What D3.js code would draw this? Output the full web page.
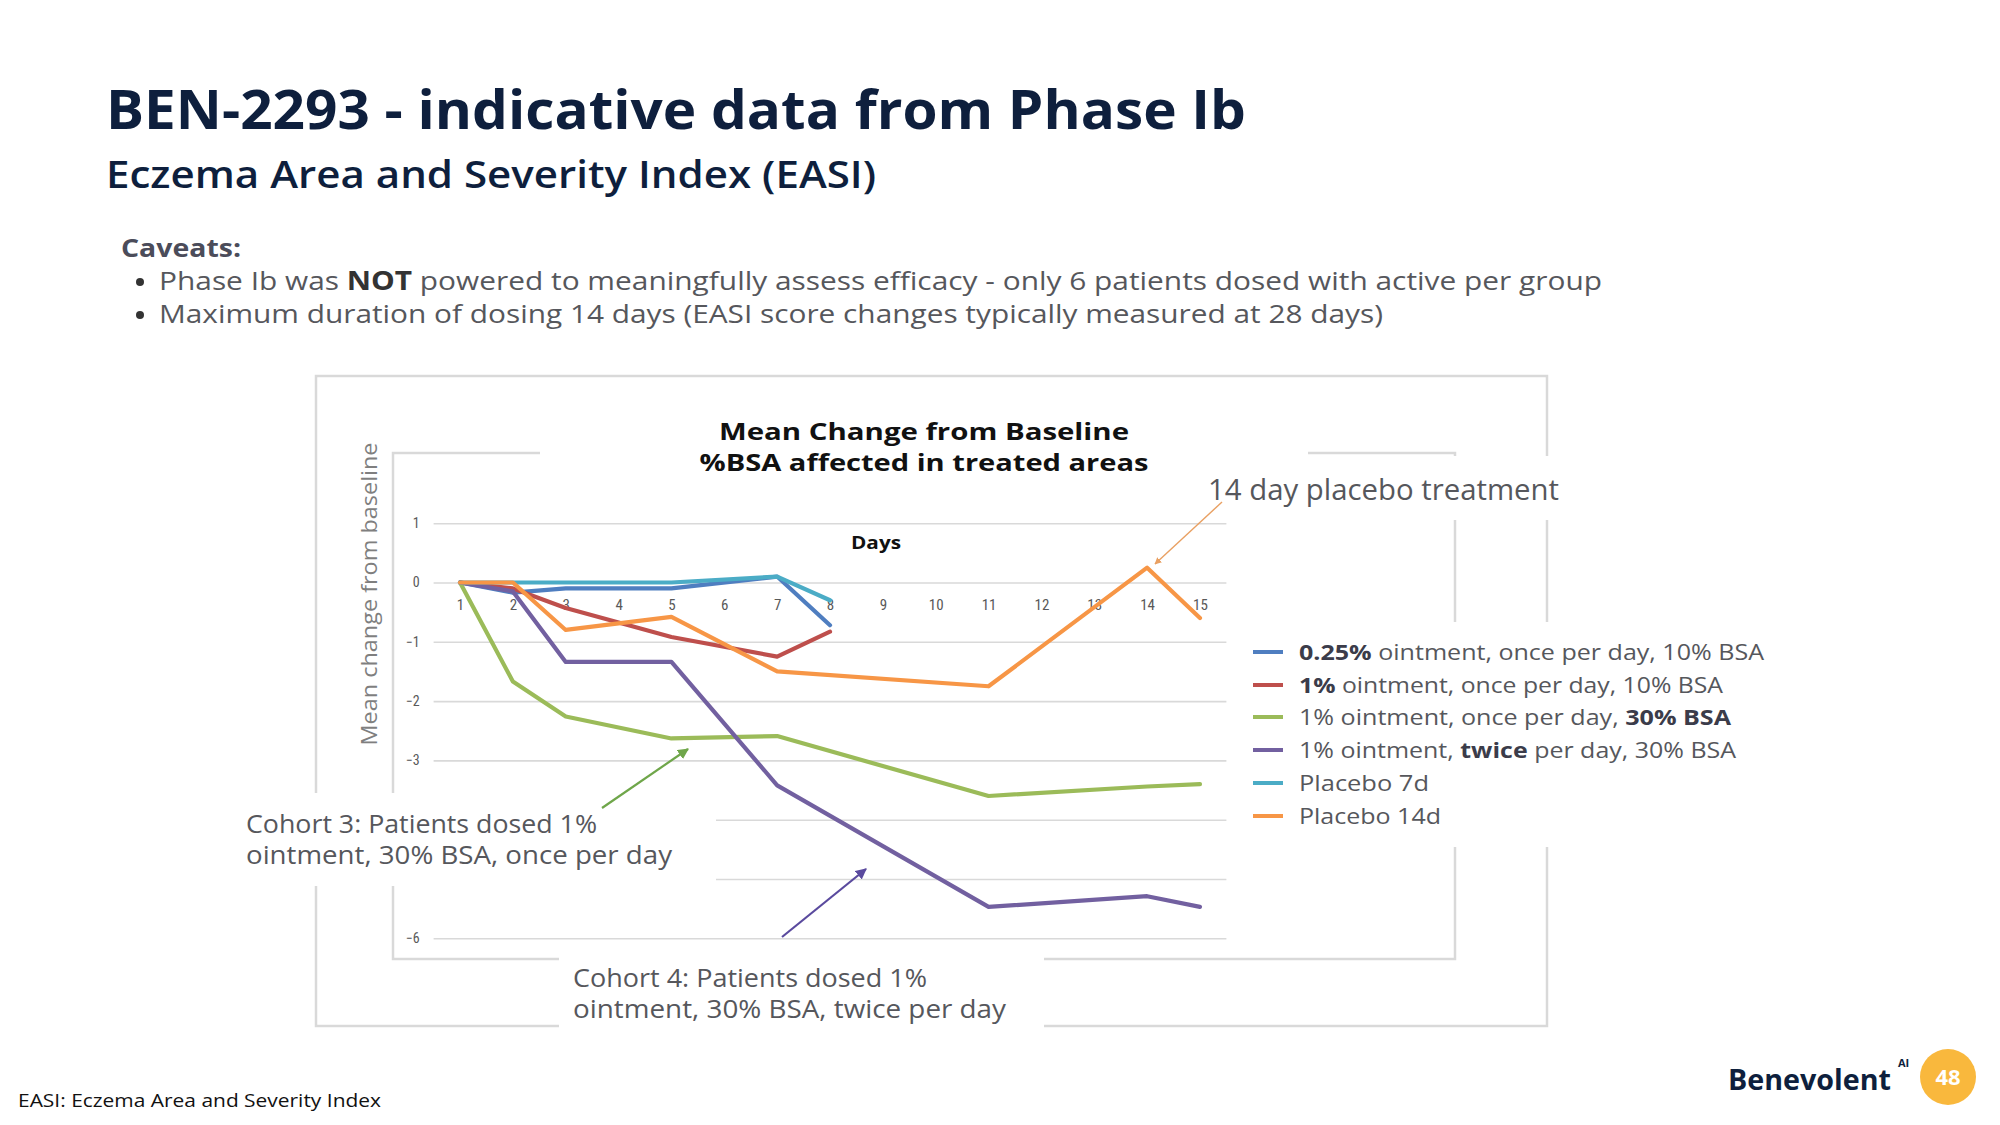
<!DOCTYPE html>
<html><head><meta charset="utf-8">
<script src="https://cdn.jsdelivr.net/npm/d3@7"></script>
<style>
body{margin:0;background:#fff}
svg{display:block}
text{font-family:'Open Sans','Noto Sans',sans-serif}
.narrow{font-family:'Liberation Sans Narrow','Roboto Condensed','Liberation Sans',sans-serif}
</style>
</head><body>
<svg id="c" width="2000" height="1125"></svg>
<script>
// ---------- DATA ----------
const days = [1,2,3,4,5,6,7,8,9,10,11,12,13,14,15];
const daysShort = [1,2,3,5,7,8];
const daysLong = [1,2,3,5,7,11,14,15];
const yTicks = [1,0,-1,-2,-3,-4,-5,-6];
const yTickLabels = [1,0,-1,-2,-3,-6];   // -4 and -5 are hidden behind the annotation box

const seriesNames = [
  "0.25% ointment, once per day, 10% BSA",
  "1% ointment, once per day, 10% BSA",
  "1% ointment, once per day, 30% BSA",
  "1% ointment, twice per day, 30% BSA",
  "Placebo 7d",
  "Placebo 14d"
];
const vals025Once10 = [0, -0.17, -0.1, -0.1, 0.1, -0.72];
const vals1Once10   = [0, -0.1, -0.43, -0.92, -1.25, -0.83];
const vals1Once30   = [0, -1.67, -2.26, -2.63, -2.59, -3.6, -3.44, -3.4];
const vals1Twice30  = [0, -0.15, -1.34, -1.34, -3.42, -5.47, -5.29, -5.47];
const valsPlacebo7  = [0, 0, 0, 0, 0.1, -0.3];
const valsPlacebo14 = [0, 0, -0.8, -0.58, -1.5, -1.75, 0.25, -0.6];

// legend label runs: [text, bold]
const legendRuns = [
  [["0.25%", true], [" ointment, once per day, 10% BSA", false]],
  [["1%", true], [" ointment, once per day, 10% BSA", false]],
  [["1% ointment, once per day, ", false], ["30% BSA", true]],
  [["1% ointment, ", false], ["twice", true], [" per day, 30% BSA", false]],
  [["Placebo 7d", false]],
  [["Placebo 14d", false]]
];

// ---------- STYLE ----------
const colors = ["#4F7EC0", "#BE4F4C", "#9BBB59", "#7260A0", "#4BACC6", "#F79646"];
const seriesList = [
  {days: daysShort, vals: vals025Once10},
  {days: daysShort, vals: vals1Once10},
  {days: daysLong,  vals: vals1Once30},
  {days: daysLong,  vals: vals1Twice30},
  {days: daysShort, vals: valsPlacebo7},
  {days: daysLong,  vals: valsPlacebo14}
];

const svg = d3.select("#c");
const boxCol = "#d9d9d9";
const navy = "#0e1f3d";
const gray = "#56575c";

function fit(sel, w){ sel.attr("textLength", w).attr("lengthAdjust", "spacingAndGlyphs"); return sel; }

// ---------- HEADER ----------
fit(svg.append("text").attr("x",106).attr("y",129).attr("font-size",53).attr("font-weight",700)
  .attr("fill",navy).text("BEN-2293 - indicative data from Phase Ib"), 1140);
fit(svg.append("text").attr("x",106).attr("y",188).attr("font-size",37).attr("font-weight",600)
  .attr("fill",navy).text("Eczema Area and Severity Index (EASI)"), 770);
fit(svg.append("text").attr("x",121).attr("y",257).attr("font-size",25).attr("font-weight",700)
  .attr("fill","#4b4c5a").text("Caveats:"), 120);

const b1 = svg.append("text").attr("x",159).attr("y",290).attr("font-size",26).attr("fill",gray);
b1.append("tspan").text("Phase Ib was ");
b1.append("tspan").attr("font-weight",700).attr("fill","#333").text("NOT");
b1.append("tspan").text(" powered to meaningfully assess efficacy - only 6 patients dosed with active per group");
fit(b1, 1443);
const b2 = svg.append("text").attr("x",159).attr("y",323).attr("font-size",26).attr("fill",gray)
  .text("Maximum duration of dosing 14 days (EASI score changes typically measured at 28 days)");
fit(b2, 1224);
[290,323].forEach(y => svg.append("circle").attr("cx",140).attr("cy",y-8).attr("r",4).attr("fill","#333"));

// ---------- CHART FRAME ----------
svg.append("rect").attr("x",316).attr("y",376).attr("width",1547-316).attr("height",1026-376)
  .attr("fill","none").attr("stroke",boxCol).attr("stroke-width",2.5);
svg.append("rect").attr("x",393).attr("y",453).attr("width",1455-393).attr("height",959-453)
  .attr("fill","none").attr("stroke",boxCol).attr("stroke-width",2.5);

// ---------- SCALES ----------
const x = d3.scalePoint().domain(days).range([433.6, 1226.4]).padding(0.5);
const y = d3.scaleLinear().domain([-6, 1]).range([938.3, 523.2]);

// gridlines
const yAxis = d3.axisLeft(y).tickValues(yTicks).tickSize(-(1226.4-433.6))
  .tickFormat(d3.format("d")).tickPadding(14);
const gy = svg.append("g").attr("transform","translate(433.6,0)").call(yAxis);
gy.select(".domain").remove();
gy.selectAll(".tick line").attr("stroke",boxCol).attr("stroke-width",1.6);
gy.selectAll(".tick text").filter(d => !yTickLabels.includes(d)).remove();
gy.selectAll(".tick text").attr("class","narrow").attr("font-size",14).attr("fill","#595959");

// x axis crossing at 0, labels below
const xAxis = d3.axisBottom(x).tickValues(days).tickSize(0).tickPadding(17);
const gx = svg.append("g").attr("transform",`translate(0,${y(0)})`).call(xAxis);
gx.select(".domain").remove();
gx.selectAll(".tick text").attr("class","narrow").attr("font-size",15).attr("fill","#595959");

// ---------- WHITE COVER BOXES (text backgrounds) ----------
const covers = [[540,395,768,105],[1200,456,370,64],[1240,622,560,225],[228,793,488,93],[559,948,485,97]];
covers.forEach(c => svg.append("rect").attr("x",c[0]).attr("y",c[1]).attr("width",c[2]).attr("height",c[3]).attr("fill","#fff"));

// ---------- SERIES ----------
const line = d3.line().x(d => x(d[0])).y(d => y(d[1]));
seriesList.forEach((s,i) => {
  svg.append("path").datum(s.days.map((dd,k) => [dd, s.vals[k]]))
    .attr("d", line).attr("fill","none").attr("stroke",colors[i])
    .attr("stroke-width",4.2).attr("stroke-linejoin","round").attr("stroke-linecap","round");
});

// ---------- CHART TEXTS ----------
fit(svg.append("text").attr("x",924).attr("y",440).attr("text-anchor","middle").attr("font-size",24)
  .attr("font-weight",700).attr("fill","#111").text("Mean Change from Baseline"), 410);
fit(svg.append("text").attr("x",924).attr("y",471).attr("text-anchor","middle").attr("font-size",24)
  .attr("font-weight",700).attr("fill","#111").text("%BSA affected in treated areas"), 449);
fit(svg.append("text").attr("x",876).attr("y",549).attr("text-anchor","middle").attr("font-size",18)
  .attr("font-weight",700).attr("fill","#111").text("Days"), 50);
fit(svg.append("text").attr("transform","translate(377,594) rotate(-90)").attr("text-anchor","middle")
  .attr("font-size",21).attr("fill","#7f7f7f").text("Mean change from baseline"), 303);

// annotations
const defs = svg.append("defs");
function marker(id, col){
  defs.append("marker").attr("id",id).attr("viewBox","0 0 10 10").attr("refX",9).attr("refY",5)
    .attr("markerWidth",5).attr("markerHeight",5).attr("orient","auto")
    .append("path").attr("d","M0,0 L10,5 L0,10 z").attr("fill",col);
}
marker("mo","#E9A062"); marker("mg","#6FA64A"); marker("mp","#5A4A9E");
svg.append("line").attr("x1",1222).attr("y1",502).attr("x2",1155).attr("y2",564)
  .attr("stroke","#E9A062").attr("stroke-width",1.4).attr("marker-end","url(#mo)");
svg.append("line").attr("x1",602).attr("y1",808).attr("x2",688).attr("y2",749)
  .attr("stroke","#6FA64A").attr("stroke-width",2.2).attr("marker-end","url(#mg)");
svg.append("line").attr("x1",782).attr("y1",937).attr("x2",866).attr("y2",869)
  .attr("stroke","#5A4A9E").attr("stroke-width",2.2).attr("marker-end","url(#mp)");

fit(svg.append("text").attr("x",1208).attr("y",500).attr("font-size",29).attr("fill",gray)
  .text("14 day placebo treatment"), 351);
fit(svg.append("text").attr("x",246).attr("y",833).attr("font-size",25).attr("fill",gray)
  .text("Cohort 3: Patients dosed 1%"), 351);
fit(svg.append("text").attr("x",246).attr("y",864).attr("font-size",25).attr("fill",gray)
  .text("ointment, 30% BSA, once per day"), 426);
fit(svg.append("text").attr("x",573).attr("y",987).attr("font-size",25).attr("fill",gray)
  .text("Cohort 4: Patients dosed 1%"), 354);
fit(svg.append("text").attr("x",573).attr("y",1018).attr("font-size",25).attr("fill",gray)
  .text("ointment, 30% BSA, twice per day"), 433);

// legend
const legY = [652, 685, 717, 750, 783, 816];
const legW = [465, 424, 432, 437, 130, 142];
legendRuns.forEach((runs,i) => {
  svg.append("line").attr("x1",1253).attr("x2",1283).attr("y1",legY[i]).attr("y2",legY[i])
    .attr("stroke",colors[i]).attr("stroke-width",4);
  const t = svg.append("text").attr("x",1299).attr("y",legY[i]+8).attr("font-size",22).attr("fill",gray);
  runs.forEach(r => t.append("tspan").attr("font-weight", r[1]?700:400).attr("fill", r[1]?"#3b3c4a":gray).text(r[0]));
  fit(t, legW[i]);
});

// ---------- FOOTER ----------
fit(svg.append("text").attr("x",18).attr("y",1107).attr("font-size",19).attr("fill","#111")
  .text("EASI: Eczema Area and Severity Index"), 363);
fit(svg.append("text").attr("x",1728).attr("y",1090).attr("font-size",29).attr("font-weight",700)
  .attr("fill",navy).text("Benevolent"), 163);
svg.append("text").attr("x",1898).attr("y",1067).attr("font-size",11).attr("font-weight",700)
  .attr("fill",navy).text("AI");
svg.append("circle").attr("cx",1948).attr("cy",1077).attr("r",28).attr("fill","#F9B83D");
svg.append("text").attr("x",1948).attr("y",1085).attr("text-anchor","middle").attr("font-size",22)
  .attr("font-weight",700).attr("fill","#fff").text("48");
</script>
</body></html>
